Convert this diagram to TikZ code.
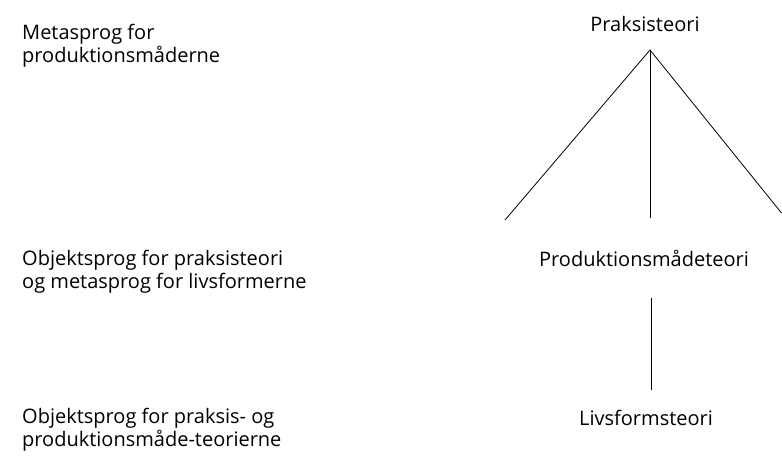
\documentclass[tikz,border=0pt]{standalone}
\usepackage{fontspec}
\setmainfont{Open Sans}
\begin{document}
\begin{tikzpicture}[x=1pt,y=1pt,
  lbl/.style={inner sep=0pt,font=\fontsize{20}{22.5}\selectfont},
  lefttxt/.style={lbl,anchor=west,align=left},
  ln/.style={line width=0.8pt,black}]
\useasboundingbox (0,0) rectangle (782,460);
\node[lefttxt] (m1) at (22,414) {Metasprog for\\produktionsmåderne};
\node[lefttxt] (m2) at (22,188) {Objektsprog for praksisteori\\og metasprog for livsformerne};
\node[lefttxt] (m3) at (22,30) {Objektsprog for praksis- og\\produktionsmåde-teorierne};
\node[lbl] (p) at (645,436) {Praksisteori};
\node[lbl] (pm) at (644,202) {Produktionsmådeteori};
\node[lbl] (lf) at (646,42) {Livsformsteori};
\coordinate (apex) at (650,410);
\coordinate (le) at (505,240);
\coordinate (me) at (650,242);
\coordinate (re) at (781.5,247);
\coordinate (t2) at (651,162);
\coordinate (b2) at (651,70);
\draw[ln] (le) -- (apex) -- (re);
\draw[ln] (apex) -- (me);
\draw[ln] (t2) -- (b2);
\end{tikzpicture}
\end{document}
